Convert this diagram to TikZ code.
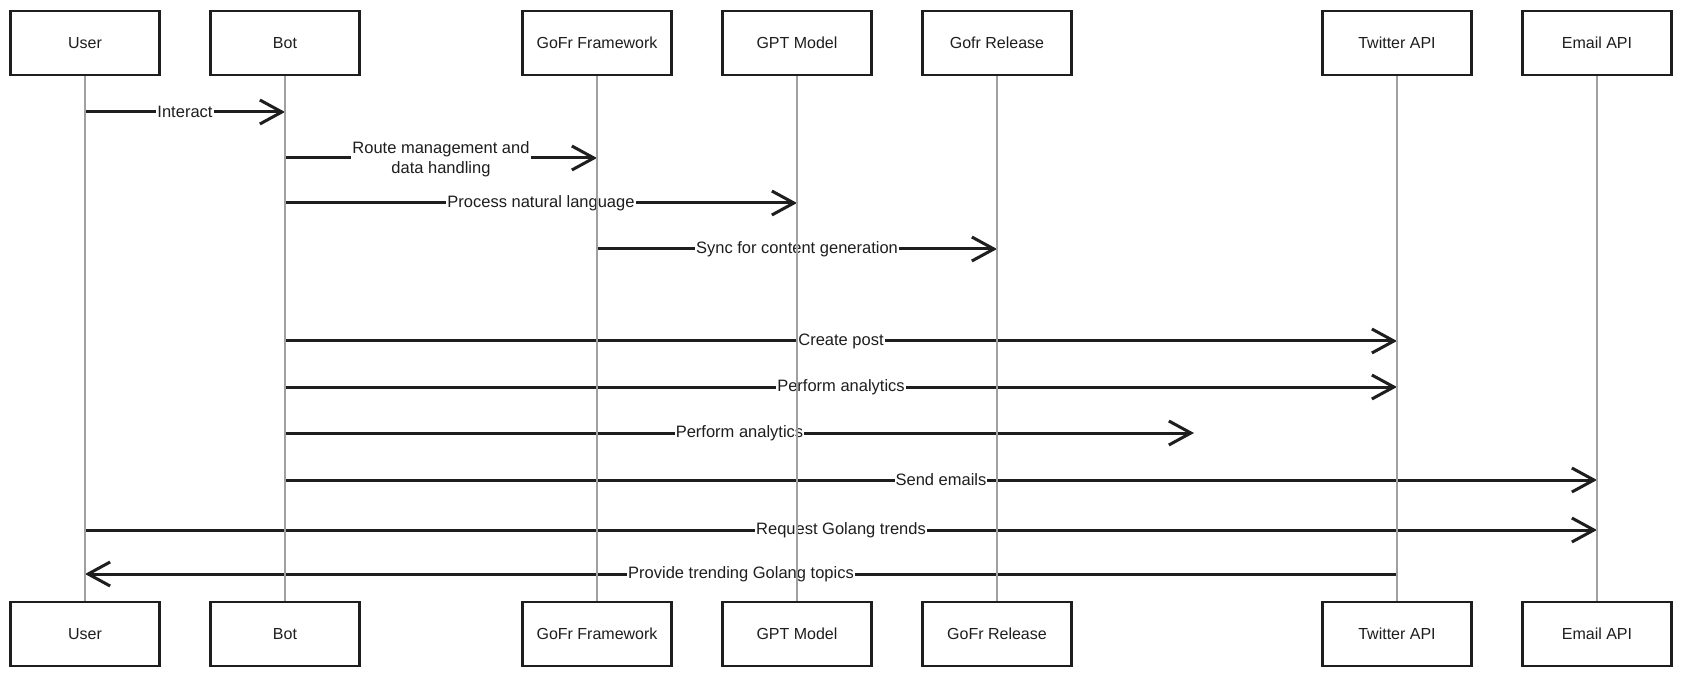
\documentclass[tikz,border=0pt]{standalone}
\usepackage{fontspec}
\setmainfont{Liberation Sans}
\usetikzlibrary{arrows.meta}
\definecolor{ink}{HTML}{1E1E1E}
\definecolor{lifegray}{HTML}{A0A0A0}
\tikzset{
  actor/.style={draw=ink, line width=2.2pt, fill=white, minimum width=149pt, minimum height=64pt, inner sep=0pt, font=\fontsize{16}{18}\selectfont, text=ink},
  lifeline/.style={draw=lifegray, line width=1.2pt},
  msg/.style={draw=ink, line width=3pt, -{Straight Barb[length=22pt,width=24pt,line width=3pt]}},
  msglabel/.style={fill=white, inner sep=1pt, font=\fontsize{16.5}{20}\selectfont, text=ink, align=center},
}
\begin{document}
\begin{tikzpicture}[x=1pt,y=-1pt]
			\useasboundingbox (0,0) rectangle (1682,676);
			\node[actor] (userT) at (85,43) {User};
			\node[actor] (botT) at (285,43) {Bot};
			\node[actor] (gofrT) at (597,43) {GoFr Framework};
			\node[actor] (gptT) at (797,43) {GPT Model};
			\node[actor] (relT) at (997,43) {Gofr Release};
			\node[actor] (twT) at (1397,43) {Twitter API};
			\node[actor] (mailT) at (1597,43) {Email API};
			\node[actor] (userB) at (85,634) {User};
			\node[actor] (botB) at (285,634) {Bot};
			\node[actor] (gofrB) at (597,634) {GoFr Framework};
			\node[actor] (gptB) at (797,634) {GPT Model};
			\node[actor] (relB) at (997,634) {GoFr Release};
			\node[actor] (twB) at (1397,634) {Twitter API};
			\node[actor] (mailB) at (1597,634) {Email API};
			\coordinate (m1) at (0,112);
			\coordinate (m2) at (0,158);
			\coordinate (m3) at (0,203);
			\coordinate (m4) at (0,249);
			\coordinate (m5) at (0,341);
			\coordinate (m6) at (0,387);
			\coordinate (m7) at (0,433);
			\coordinate (m8) at (0,480);
			\coordinate (m9) at (0,530);
			\coordinate (m10) at (0,574);
			\coordinate (stop7) at (1194,433);
			\draw[msg] (userT |- m1) -- node[msglabel] {Interact} (botT |- m1);
			\draw[msg] (botT |- m2) -- node[msglabel, yshift=-1.5pt] {Route management and\\data handling} (gofrT |- m2);
			\draw[msg] (botT |- m3) -- node[msglabel] {Process natural language} (gptT |- m3);
			\draw[msg] (gofrT |- m4) -- node[msglabel] {Sync for content generation} (relT |- m4);
			\draw[msg] (botT |- m5) -- node[msglabel] {Create post} (twT |- m5);
			\draw[msg] (botT |- m6) -- node[msglabel] {Perform analytics} (twT |- m6);
			\draw[msg] (botT |- m7) -- node[msglabel] {Perform analytics} (stop7);
			\draw[msg] (botT |- m8) -- node[msglabel] {Send emails} (mailT |- m8);
			\draw[msg] (userT |- m9) -- node[msglabel] {Request Golang trends} (mailT |- m9);
			\draw[msg] (twT |- m10) -- node[msglabel] {Provide trending Golang topics} (userT |- m10);
			\foreach \a in {user,bot,gofr,gpt,rel,tw,mail}
				\draw[lifeline] (\a T.south) -- (\a B.north);
		\end{tikzpicture}
\end{document}
